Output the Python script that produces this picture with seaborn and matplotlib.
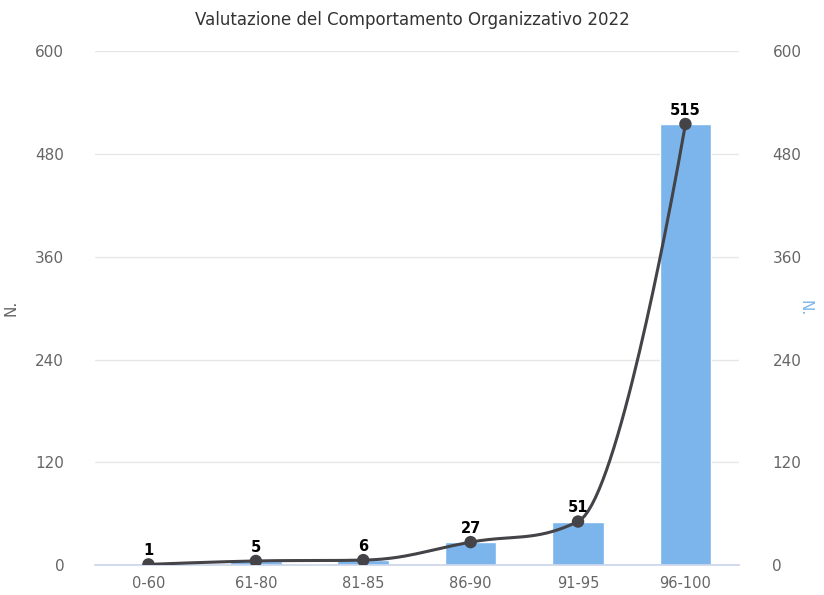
import numpy as np
import pandas as pd
import matplotlib
matplotlib.use("Agg")
import matplotlib.pyplot as plt
import seaborn as sns

BAR_BLUE = "#7cb5ec"
LINE_DARK = "#434348"
TEXT_GREY = "#666666"

categories = ["0-60", "61-80", "81-85", "86-90", "91-95", "96-100"]
counts = [1, 5, 6, 27, 51, 515]
yticks = [0, 120, 240, 360, 480, 600]
title = "Valutazione del Comportamento Organizzativo 2022"


def spline_path(xs, ys, smoothing=1.5, steps=40):
    # highcharts-style spline through the points (cubic bezier segments)
    n = len(xs)
    left, right = [None] * n, [None] * n
    for i in range(1, n - 1):
        lx, ly = xs[i - 1], ys[i - 1]
        nx, ny = xs[i + 1], ys[i + 1]
        px, py = xs[i], ys[i]
        lcx = (smoothing * px + lx) / (smoothing + 1)
        lcy = (smoothing * py + ly) / (smoothing + 1)
        rcx = (smoothing * px + nx) / (smoothing + 1)
        rcy = (smoothing * py + ny) / (smoothing + 1)
        corr = (rcy - lcy) * (rcx - px) / (rcx - lcx) + py - rcy
        lcy += corr
        rcy += corr
        if lcy > max(ly, py):
            lcy = max(ly, py); rcy = 2 * py - lcy
        elif lcy < min(ly, py):
            lcy = min(ly, py); rcy = 2 * py - lcy
        if rcy > max(py, ny):
            rcy = max(py, ny); lcy = 2 * py - rcy
        elif rcy < min(py, ny):
            rcy = min(py, ny); lcy = 2 * py - rcy
        left[i] = (lcx, lcy)
        right[i] = (rcx, rcy)
    out_x, out_y = [], []
    t = np.linspace(0, 1, steps)
    for i in range(n - 1):
        p0 = (xs[i], ys[i])
        p3 = (xs[i + 1], ys[i + 1])
        p1 = right[i] if right[i] is not None else p0
        p2 = left[i + 1] if left[i + 1] is not None else p3
        bx = (1-t)**3*p0[0] + 3*(1-t)**2*t*p1[0] + 3*(1-t)*t**2*p2[0] + t**3*p3[0]
        by = (1-t)**3*p0[1] + 3*(1-t)**2*t*p1[1] + 3*(1-t)*t**2*p2[1] + t**3*p3[1]
        out_x.extend(bx); out_y.extend(by)
    return np.array(out_x), np.array(out_y)


sns.set_theme(style="white")
plt.rcParams["font.family"] = ["DejaVu Sans"]

df = pd.DataFrame({"cat": categories, "n": counts})

fig = plt.figure(figsize=(8.24, 5.95), dpi=100)
ax = fig.add_axes([0.115, 0.050, 0.782, 0.864])

sns.barplot(data=df, x="cat", y="n", color=BAR_BLUE, width=0.48,
            saturation=1, ax=ax, zorder=2)

xs = np.arange(len(categories), dtype=float)
sx, sy = spline_path(xs, np.array(counts, dtype=float))
ax.plot(sx, sy, color=LINE_DARK, lw=2.2, zorder=3, solid_capstyle="round")
ax.scatter(xs, counts, s=80, color=LINE_DARK, zorder=4, edgecolors="none")

for x, v in zip(xs, counts):
    ax.annotate(str(v), (x, v), xytext=(0, 4.5), textcoords="offset points",
                ha="center", va="bottom", fontsize=10.5, fontweight="bold",
                color="black", zorder=5)

ax.set_xlim(-0.5, len(categories) - 0.5)
ax.set_ylim(0, 600)
ax.set_yticks(yticks)
ax.yaxis.grid(True, color="#e6e6e6", lw=1, zorder=0)
ax.set_axisbelow(True)
for s in ["top", "right", "left"]:
    ax.spines[s].set_visible(False)
ax.spines["bottom"].set_color("#ccd6eb")
ax.tick_params(axis="y", length=0, pad=22, labelsize=11, labelcolor=TEXT_GREY)
ax.tick_params(axis="x", length=0, pad=8, labelsize=10.5, labelcolor=TEXT_GREY)
ax.set_xlabel("")
ax.set_ylabel("N.", fontsize=11, color=TEXT_GREY, labelpad=12)

ax2 = ax.twinx()
ax2.set_ylim(0, 600)
ax2.set_yticks(yticks)
for s in ["top", "right", "left", "bottom"]:
    ax2.spines[s].set_visible(False)
ax2.tick_params(axis="y", length=0, pad=24, labelsize=11, labelcolor=TEXT_GREY)
ax2.set_ylabel("N.", fontsize=11, color=BAR_BLUE, rotation=270, labelpad=8)

fig.suptitle(title, y=0.982, fontsize=12, color="#333333", va="top")

fig.savefig("out.png", dpi=100)
